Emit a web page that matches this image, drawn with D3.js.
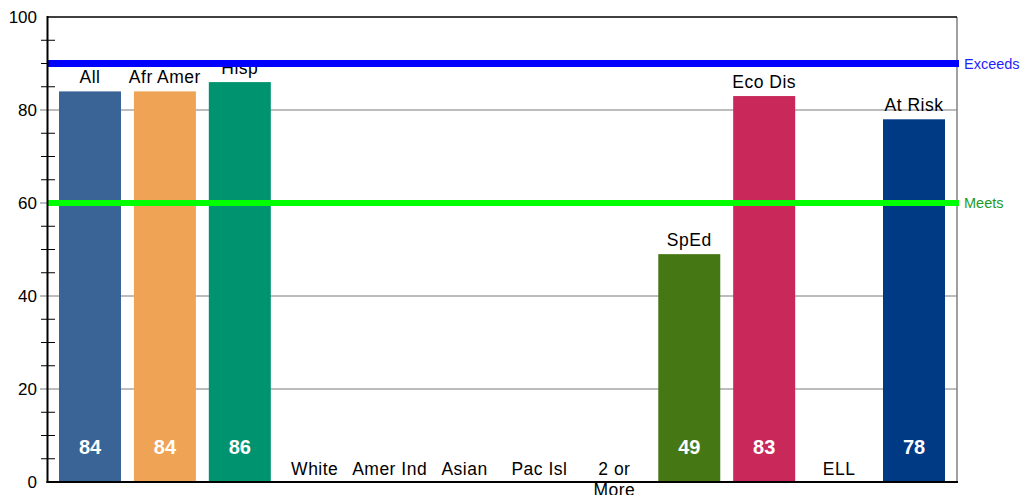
<!DOCTYPE html>
<html><head><meta charset="utf-8">
<script src="https://cdn.jsdelivr.net/npm/d3@7"></script>
<style>body{margin:0;background:#fff}svg{display:block;font-family:"Liberation Sans",Arial,sans-serif}</style>
</head><body>
<script>
const categories = ["All","Afr Amer","Hisp","White","Amer Ind","Asian","Pac Isl","2 or More","SpEd","Eco Dis","ELL","At Risk"];
const values = [84,84,86,null,null,null,null,null,49,83,null,78];
const colors = ["#3a6496","#efa354","#009370","#888","#888","#888","#888","#888","#467715","#c8285a","#888","#003a84"];
const majorTicks = [0,20,40,60,80,100];
const minorTicks = [5,10,15,25,30,35,45,50,55,65,70,75,85,90,95];
const thresholds = [{label:"Exceeds", value:90, color:"#0000ff", text:"#1f1fff"},{label:"Meets", value:60, color:"#00ff00", text:"#1e9a1e"}];

(function(){
const W=1023,H=495;
const pL=47.5,pR=957,pT=17,pB=482;
const svg=d3.select("body").append("svg").attr("width",W).attr("height",H);
const y=d3.scaleLinear().domain([0,100]).range([pB,pT]);
const x=d3.scalePoint().domain(categories).range([90,914]);
const bw=62;

svg.append("g").selectAll("line").data(majorTicks.filter(d=>d>0&&d<100)).join("line")
  .attr("x1",40).attr("x2",pR).attr("y1",d=>y(d)).attr("y2",d=>y(d))
  .attr("stroke","#7a7a7a").attr("stroke-width",1);
svg.append("g").selectAll("line").data(minorTicks).join("line")
  .attr("x1",41).attr("x2",55).attr("y1",d=>y(d)).attr("y2",d=>y(d))
  .attr("stroke","#000").attr("stroke-width",1);
svg.append("line").attr("x1",pR).attr("x2",pR).attr("y1",pT).attr("y2",pB).attr("stroke","#808080").attr("stroke-width",1.5);
svg.append("line").attr("x1",pL).attr("x2",pR).attr("y1",pT).attr("y2",pT).attr("stroke","#000").attr("stroke-width",1.5);

const bd=categories.map((c,i)=>({c,v:values[i],col:colors[i]}));
svg.append("g").selectAll("rect").data(bd.filter(d=>d.v!=null)).join("rect")
  .attr("x",d=>x(d.c)-bw/2).attr("width",bw).attr("y",d=>y(d.v)).attr("height",d=>y(0)-y(d.v)).attr("fill",d=>d.col);
svg.append("g").selectAll("text").data(bd.filter(d=>d.v!=null)).join("text")
  .attr("x",d=>x(d.c)).attr("y",454).attr("text-anchor","middle").attr("fill","#fff")
  .attr("font-weight","bold").attr("font-size",20).text(d=>d.v);
svg.append("g").selectAll("text").data(bd).join("text")
  .attr("x",d=>x(d.c)).attr("y",d=>d.v!=null?y(d.v)-8:475).attr("text-anchor","middle")
  .attr("fill","#000").attr("font-size",17.5).attr("letter-spacing",0.5)
  .each(function(d){
    const t=d3.select(this);
    if(d.c==="2 or More"){
      t.append("tspan").attr("x",x(d.c)).text("2 or");
      t.append("tspan").attr("x",x(d.c)).attr("dy",21).text("More");
    } else t.text(d.c);
  });

svg.append("g").selectAll("line").data(thresholds).join("line")
  .attr("x1",pL).attr("x2",959).attr("y1",d=>y(d.value)).attr("y2",d=>y(d.value))
  .attr("stroke",d=>d.color).attr("stroke-width",d=>d.value===90?7:6);
svg.append("g").selectAll("text").data(thresholds).join("text")
  .attr("x",964).attr("y",d=>y(d.value)+5).attr("fill",d=>d.text).attr("font-size",14.5).text(d=>d.label);

svg.append("line").attr("x1",pL).attr("x2",pL).attr("y1",pT-1).attr("y2",pB+1).attr("stroke","#000").attr("stroke-width",2);
svg.append("line").attr("x1",pL-1).attr("x2",pR+1).attr("y1",pB).attr("y2",pB).attr("stroke","#000").attr("stroke-width",2);
svg.append("g").selectAll("text").data(majorTicks).join("text")
  .attr("x",37).attr("y",d=>y(d)+6).attr("text-anchor","end").attr("font-size",17).attr("fill","#000").text(d=>d);
})();
</script>
</body></html>
